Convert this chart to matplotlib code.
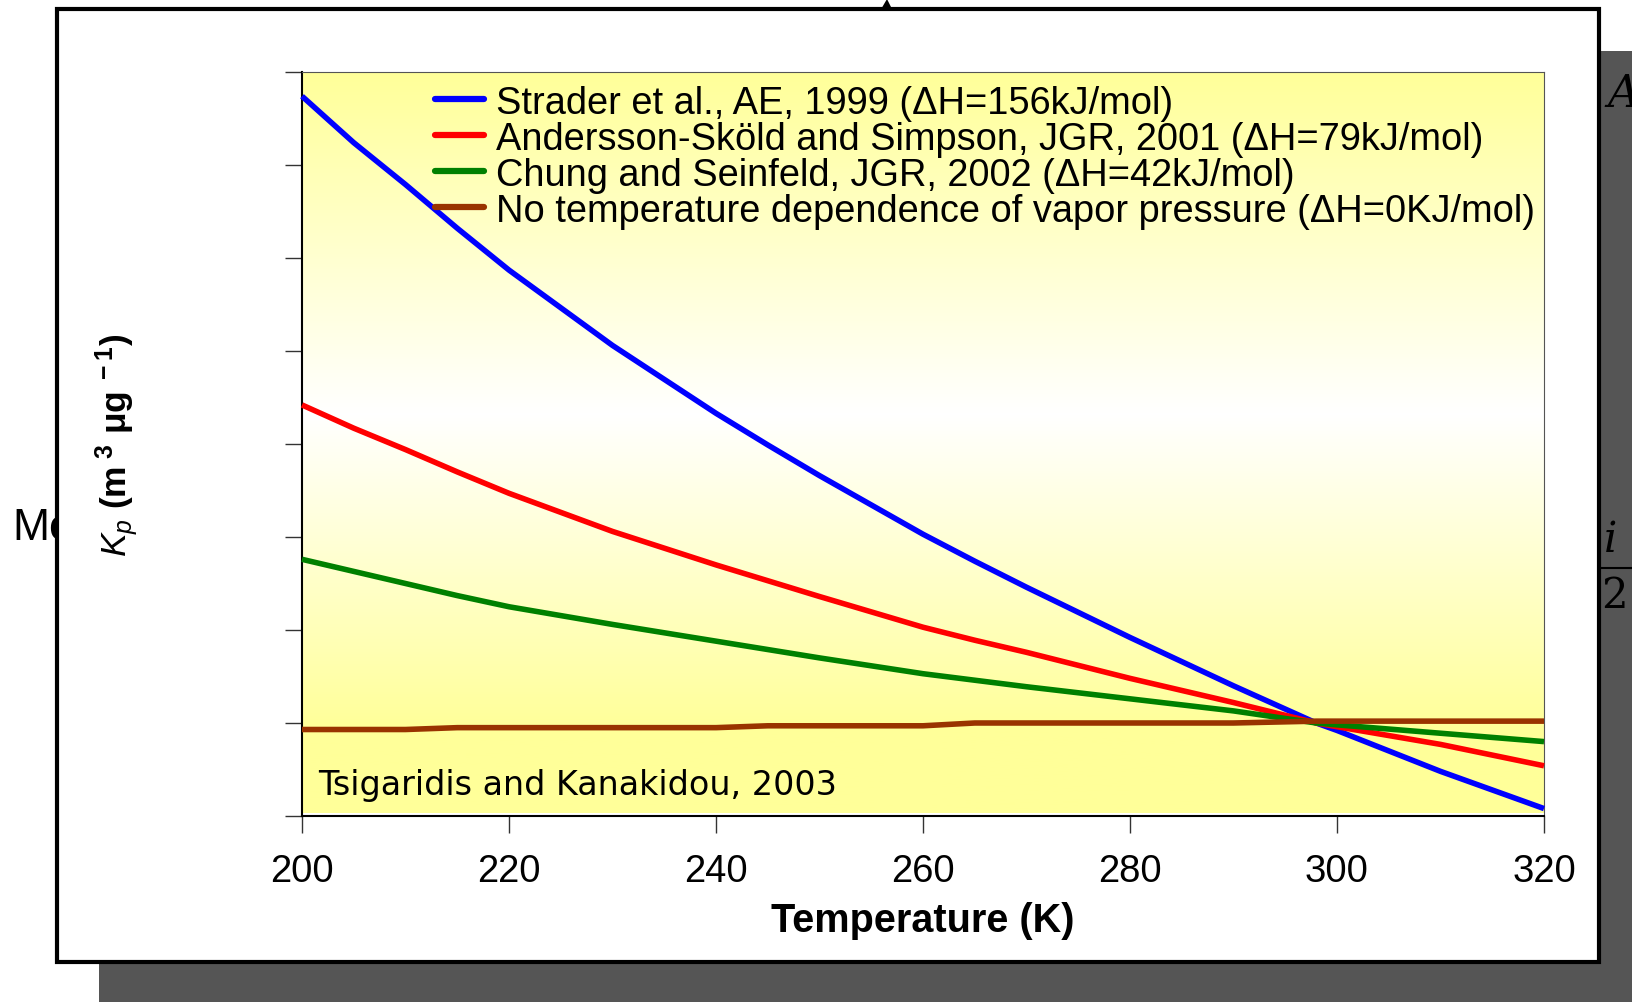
import numpy as np
import matplotlib
matplotlib.use("Agg")
import matplotlib.pyplot as plt
from matplotlib.patches import Rectangle, Polygon
from matplotlib.lines import Line2D
from matplotlib.colors import LinearSegmentedColormap

# Kp relative values (y axis has unlabeled ticks 0..8)
temperature = [200, 205, 210, 215, 220, 230, 240, 245, 250, 260, 265, 270, 280, 290, 298, 300, 310, 320]
kp_strader = [7.74, 7.24, 6.79, 6.32, 5.87, 5.06, 4.33, 3.99, 3.66, 3.03, 2.74, 2.46, 1.92, 1.40, 1.00, 0.92, 0.48, 0.08]
kp_andersson = [4.42, 4.17, 3.94, 3.70, 3.47, 3.06, 2.70, 2.53, 2.36, 2.03, 1.89, 1.76, 1.48, 1.22, 1.00, 0.96, 0.77, 0.54]
kp_chung = [2.76, 2.63, 2.50, 2.37, 2.25, 2.06, 1.88, 1.79, 1.70, 1.53, 1.46, 1.39, 1.26, 1.13, 1.00, 0.98, 0.89, 0.80]
kp_const = [0.93, 0.93, 0.93, 0.95, 0.95, 0.95, 0.95, 0.97, 0.97, 0.97, 1.00, 1.00, 1.00, 1.00, 1.02, 1.02, 1.02, 1.02]

series_labels = [
    "Strader et al., AE, 1999 (\u0394H=156kJ/mol)",
    "Andersson-Sk\u00f6ld and Simpson, JGR, 2001 (\u0394H=79kJ/mol)",
    "Chung and Seinfeld, JGR, 2002 (\u0394H=42kJ/mol)",
    "No temperature dependence of vapor pressure (\u0394H=0KJ/mol)",
]
series_colors = ["#0000FF", "#FF0000", "#008000", "#993300"]
x_ticks = [200, 220, 240, 260, 280, 300, 320]
y_ticks = [0, 1, 2, 3, 4, 5, 6, 7, 8]

plt.rcParams['font.family'] = ['Liberation Sans', 'DejaVu Sans']
plt.rcParams['mathtext.fontset'] = 'custom'
plt.rcParams['mathtext.rm'] = 'Liberation Sans'
plt.rcParams['mathtext.it'] = 'Liberation Sans:italic'
plt.rcParams['mathtext.bf'] = 'Liberation Sans:bold'

W, H = 1633, 1003
fig = plt.figure(figsize=(W / 100, H / 100), dpi=100)


def fx(x):
    return x / W


def fy(y):
    return 1 - y / H


# slide background pieces
fig.add_artist(Rectangle((fx(99), 0), 1, fy(52), transform=fig.transFigure,
                         facecolor="#555555", edgecolor="none", zorder=-5))
fig.text(fx(12), fy(528), "Me", fontsize=32, color="black", va="center", ha="left", zorder=-4)
fig.text(fx(1607), fy(94), "A", fontsize=32, family="DejaVu Serif", style="italic",
         color="black", va="center", ha="left", zorder=-4)
fig.text(fx(1604), fy(540), "i", fontsize=30, family="DejaVu Serif", style="italic",
         color="black", va="center", ha="left", zorder=-4)
fig.text(fx(1601), fy(596), "2", fontsize=30, family="DejaVu Serif",
         color="black", va="center", ha="left", zorder=-4)
fig.add_artist(Line2D([fx(1590), fx(1633)], [fy(569), fy(569)], transform=fig.transFigure,
                      color="black", lw=1.5, zorder=-4))
fig.add_artist(Polygon([(fx(880), fy(12)), (fx(887), fy(0)), (fx(893), fy(12))], closed=True,
                       transform=fig.transFigure, facecolor="black", edgecolor="none", zorder=-4))

# white panel with black border
fig.add_artist(Rectangle((fx(57), fy(963)), fx(1599) - fx(57), fy(10) - fy(963),
                         transform=fig.transFigure, facecolor="white", edgecolor="black",
                         linewidth=3, zorder=-3))

ax = fig.add_axes([fx(302), fy(817), fx(1544) - fx(302), fy(73) - fy(817)])
ax.set_zorder(1)
ax.set_facecolor("white")

# yellow-white-yellow background gradient
yy = np.linspace(0, 8, 400)
shade = np.where(yy < 4.3, np.clip((4.3 - yy) / 3.4, 0, 1), np.clip((yy - 4.3) / 3.7, 0, 1))
cmap = LinearSegmentedColormap.from_list("wy", ["#FFFFFF", "#FFFF99"])
ax.imshow(shade[:, None], extent=(200, 320, 0.03, 8), origin="lower", aspect="auto",
          cmap=cmap, vmin=0, vmax=1, zorder=0)

all_series = [kp_strader, kp_andersson, kp_chung, kp_const]
for vals, lab, col in zip(all_series, series_labels, series_colors):
    ax.plot(temperature, vals, color=col, lw=4, label=lab, zorder=3,
            solid_capstyle="butt", clip_on=False)

ax.set_xlim(200, 320)
ax.set_ylim(0, 8)
ax.set_xticks(x_ticks)
ax.set_yticks(y_ticks)
ax.set_yticklabels([])
ax.tick_params(axis="both", direction="out", length=12, width=1, color="#333333")
ax.tick_params(axis="x", labelsize=27.5, pad=15)

for side in ["left", "bottom"]:
    ax.spines[side].set_linewidth(1.5)
    ax.spines[side].set_color("black")
for side in ["top", "right"]:
    ax.spines[side].set_linewidth(0.8)
    ax.spines[side].set_color("#555555")

ax.set_xlabel("Temperature (K)", fontsize=28.5, fontweight="bold", va="center")
ax.xaxis.set_label_coords(0.5, -0.14)
ax.set_ylabel(r"$K_p$ $\mathbf{(m^{\ 3}\ \mu g^{\ -1})}$", fontsize=25.5, fontweight="bold", va="center")
ax.yaxis.set_label_coords(-0.149, 0.5)

leg = ax.legend(loc="upper left", bbox_to_anchor=(0.107, 0.983), frameon=False,
                borderaxespad=0, borderpad=0, handlelength=1.3, handletextpad=0.3,
                labelspacing=0.0, fontsize=27.4)
for h in leg.get_lines():
    h.set_linewidth(4.5)
    h.set_solid_capstyle("round")

ax.text(0.013, 0.042, "Tsigaridis and Kanakidou, 2003", transform=ax.transAxes,
        family="DejaVu Sans", fontsize=24, va="center", ha="left", zorder=4)

fig.savefig("out.png", dpi=100)
